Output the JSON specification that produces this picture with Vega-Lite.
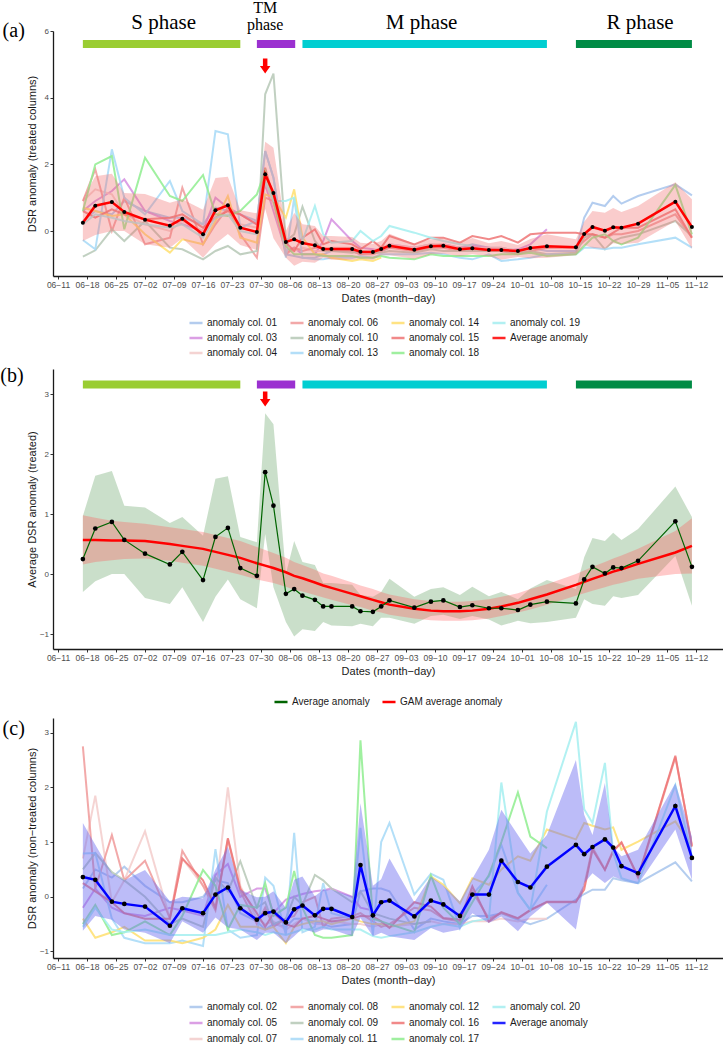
{
"$schema":"https://vega.github.io/schema/vega-lite/v6.json",
"padding":{"left":0,"top":0,"right":0,"bottom":0},
"config":{"view":{"stroke":null},"font":"Liberation Sans",
 "axis":{"grid":false,"domainColor":"#1a1a1a","domainWidth":1.3,"tickColor":"#333333","tickSize":3,"labelColor":"#4d4d4d","labelFontSize":8,"titleFontSize":11,"titleFontWeight":"normal","titleColor":"#1a1a1a","labelPadding":1.5},
 "axisX":{"labelFontSize":8.5,"titlePadding":3},
 "axisY":{"titlePadding":2,"format":"d","minExtent":14,"maxExtent":14},
 "title":{"font":"Liberation Serif","fontSize":20,"fontWeight":"normal","color":"#000000"},
 "legend":{"orient":"bottom","direction":"horizontal","labelFontSize":10,"labelColor":"#1a1a1a","symbolType":"stroke","symbolStrokeWidth":2.5,"symbolSize":170,"offset":12,"rowPadding":2,"columnPadding":7,"labelOffset":3,"layout":{"bottom":{"anchor":"middle"}}}},
"spacing":8,
"resolve":{"scale":{"x":"independent","y":"independent","color":"independent","stroke":"independent"},"legend":{"color":"independent"}},
"datasets":{
"arr":[{"d":"2019-07-31T00:00"}],
"ph":[{"p":"S","s":"2019-06-17T00:00","e":"2019-07-25T00:00","m":"2019-07-06T12:00","lbl":"S phase"},
{"p":"TM","s":"2019-07-29T00:00","e":"2019-08-07T06:00","m":"2019-07-31T00:00","lbl":"TM|phase"},
{"p":"M","s":"2019-08-09T00:00","e":"2019-10-07T00:00","m":"2019-09-06T18:00","lbl":"M phase"},
{"p":"R","s":"2019-10-14T00:00","e":"2019-11-11T00:00","m":"2019-10-29T12:00","lbl":"R phase"}],
"ta":[
{"d":"2019-06-17T00:00","c01":0.3,"c03":0.6,"c04":0.9,"c06":0.9,"c10":-0.77,"c13":-0.27,"c14":0.7,"c15":0.6,"c18":0.6,"c19":0.2,"avg":0.25,"lo":-0.3,"hi":0.97,"gam":0.57,"glo":0.16,"ghi":0.98},
{"d":"2019-06-20T00:00","c01":0.6,"c03":0.9,"c04":1.25,"c06":1.85,"c10":-0.58,"c13":-0.55,"c14":0.6,"c15":0.4,"c18":2.0,"c19":0.5,"avg":0.76,"lo":-0.12,"hi":1.64,"gam":0.57,"glo":0.2,"ghi":0.94},
{"d":"2019-06-24T00:00","c01":0.5,"c03":1.2,"c04":1.1,"c06":0.0,"c10":0.05,"c13":2.45,"c14":0.45,"c15":0.65,"c18":2.25,"c19":0.4,"avg":0.87,"lo":0.0,"hi":1.72,"gam":0.56,"glo":0.23,"ghi":0.89},
{"d":"2019-06-27T00:00","c01":0.9,"c03":1.55,"c04":0.5,"c06":1.0,"c10":-0.3,"c13":1.0,"c14":0.5,"c15":0.5,"c18":0.05,"c19":0.3,"avg":0.57,"lo":0.0,"hi":1.14,"gam":0.56,"glo":0.25,"ghi":0.87},
{"d":"2019-07-02T00:00","c01":0.6,"c03":0.6,"c04":0.2,"c06":-0.4,"c10":0.3,"c13":0.5,"c14":-0.1,"c15":0.35,"c18":2.2,"c19":0.2,"avg":0.34,"lo":-0.4,"hi":1.11,"gam":0.55,"glo":0.26,"ghi":0.84},
{"d":"2019-07-08T00:00","c01":0.4,"c03":0.3,"c04":0.0,"c06":-0.2,"c10":-0.5,"c13":1.5,"c14":-0.65,"c15":0.4,"c18":1.05,"c19":0.1,"avg":0.16,"lo":-0.5,"hi":0.85,"gam":0.5,"glo":0.22,"ghi":0.78},
{"d":"2019-07-11T00:00","c01":0.4,"c03":0.2,"c04":0.3,"c06":1.3,"c10":-0.55,"c13":0.6,"c14":-0.25,"c15":0.5,"c18":0.9,"c19":0.2,"avg":0.37,"lo":-0.22,"hi":0.95,"gam":0.47,"glo":0.19,"ghi":0.75},
{"d":"2019-07-16T00:00","c01":0.2,"c03":0.0,"c04":0.0,"c06":-0.4,"c10":-0.85,"c13":0.2,"c14":-0.4,"c15":0.1,"c18":1.68,"c19":-0.2,"avg":-0.1,"lo":-0.8,"hi":0.64,"gam":0.42,"glo":0.14,"ghi":0.7},
{"d":"2019-07-19T00:00","c01":0.7,"c03":1.0,"c04":0.5,"c06":0.2,"c10":-0.6,"c13":3.0,"c14":0.3,"c15":0.4,"c18":0.5,"c19":0.4,"avg":0.62,"lo":-0.38,"hi":1.59,"gam":0.37,"glo":0.09,"ghi":0.65},
{"d":"2019-07-22T00:00","c01":0.6,"c03":0.7,"c04":0.6,"c06":0.7,"c10":-0.45,"c13":2.9,"c14":1.05,"c15":0.6,"c18":0.45,"c19":0.5,"avg":0.77,"lo":-0.09,"hi":1.63,"gam":0.32,"glo":0.04,"ghi":0.6},
{"d":"2019-07-25T00:00","c01":0.5,"c03":0.5,"c04":0.2,"c06":-0.1,"c10":-0.7,"c13":0.1,"c14":-0.2,"c15":0.5,"c18":0.6,"c19":0.0,"avg":0.1,"lo":-0.42,"hi":0.62,"gam":0.27,"glo":-0.01,"ghi":0.55},
{"d":"2019-07-29T00:00","c01":0.3,"c03":0.2,"c04":0.1,"c06":-0.8,"c10":-0.6,"c13":0.3,"c14":-0.35,"c15":0.2,"c18":1.1,"c19":-0.1,"avg":-0.03,"lo":-0.57,"hi":0.53,"gam":0.18,"glo":-0.09,"ghi":0.45},
{"d":"2019-07-31T00:00","c01":2.4,"c03":1.4,"c04":1.5,"c06":1.0,"c10":4.1,"c13":2.4,"c14":1.1,"c15":1.9,"c18":1.8,"c19":1.5,"avg":1.7,"lo":0.67,"hi":2.68,"gam":0.14,"glo":-0.12,"ghi":0.4},
{"d":"2019-08-02T00:00","c01":1.6,"c03":0.6,"c04":0.8,"c06":0.9,"c10":4.72,"c13":1.6,"c14":1.0,"c15":1.0,"c18":0.9,"c19":0.9,"avg":1.14,"lo":-0.22,"hi":2.5,"gam":0.1,"glo":-0.15,"ghi":0.35},
{"d":"2019-08-05T00:00","c01":-0.7,"c03":-0.6,"c04":-0.6,"c06":-0.7,"c10":-0.3,"c13":-0.8,"c14":0.4,"c15":-0.35,"c18":-0.45,"c19":0.9,"avg":-0.33,"lo":-0.8,"hi":0.0,"gam":0.03,"glo":-0.21,"ghi":0.27},
{"d":"2019-08-07T00:00","c01":-0.75,"c03":-0.5,"c04":-0.6,"c06":-0.5,"c10":-0.1,"c13":1.0,"c14":1.25,"c15":-0.6,"c18":-0.7,"c19":1.0,"avg":-0.25,"lo":-1.04,"hi":0.55,"gam":-0.03,"glo":-0.26,"ghi":0.2},
{"d":"2019-08-09T00:00","c01":-0.8,"c03":-0.7,"c04":-0.5,"c06":-0.6,"c10":0.73,"c13":-0.8,"c14":-0.2,"c15":-0.2,"c18":-0.7,"c19":-0.3,"avg":-0.36,"lo":-0.92,"hi":0.2,"gam":-0.07,"glo":-0.29,"ghi":0.15},
{"d":"2019-08-12T00:00","c01":-0.8,"c03":-0.7,"c04":-0.6,"c06":-0.5,"c10":-0.3,"c13":-0.85,"c14":-0.7,"c15":0.05,"c18":-0.7,"c19":0.75,"avg":-0.43,"lo":-0.95,"hi":0.15,"gam":-0.14,"glo":-0.35,"ghi":0.07},
{"d":"2019-08-14T00:00","c01":-0.7,"c03":-0.3,"c04":-0.6,"c06":-0.5,"c10":-0.6,"c13":-0.85,"c14":-0.7,"c15":-0.4,"c18":-0.75,"c19":-0.1,"avg":-0.54,"lo":-0.8,"hi":-0.15,"gam":-0.19,"glo":-0.39,"ghi":0.01},
{"d":"2019-08-16T00:00","c01":-0.6,"c03":0.35,"c04":-0.5,"c06":-0.6,"c10":-0.6,"c13":-0.8,"c14":-0.8,"c15":-0.3,"c18":-0.75,"c19":-0.35,"avg":-0.54,"lo":-0.86,"hi":-0.15,"gam":-0.23,"glo":-0.43,"ghi":-0.03},
{"d":"2019-08-21T00:00","c01":-0.6,"c03":-0.3,"c04":-0.5,"c06":-0.6,"c10":-0.65,"c13":-0.8,"c14":-0.9,"c15":-0.4,"c18":-0.75,"c19":-0.3,"avg":-0.54,"lo":-0.87,"hi":-0.18,"gam":-0.33,"glo":-0.52,"ghi":-0.14},
{"d":"2019-08-23T00:00","c01":-0.7,"c03":-0.5,"c04":-0.6,"c06":-0.7,"c10":-0.6,"c13":-0.75,"c14":-0.85,"c15":-0.55,"c18":-0.8,"c19":0.0,"avg":-0.62,"lo":-0.83,"hi":-0.35,"gam":-0.37,"glo":-0.55,"ghi":-0.19},
{"d":"2019-08-26T00:00","c01":-0.6,"c03":-0.55,"c04":-0.6,"c06":-0.7,"c10":-0.65,"c13":-0.8,"c14":-0.9,"c15":-0.3,"c18":-0.8,"c19":-0.3,"avg":-0.63,"lo":-0.87,"hi":-0.38,"gam":-0.43,"glo":-0.61,"ghi":-0.25},
{"d":"2019-08-28T00:00","c01":-0.6,"c03":-0.6,"c04":-0.5,"c06":-0.6,"c10":-0.65,"c13":-0.7,"c14":-0.8,"c15":-0.5,"c18":-0.75,"c19":-0.15,"avg":-0.54,"lo":-0.73,"hi":-0.3,"gam":-0.47,"glo":-0.64,"ghi":-0.3},
{"d":"2019-08-30T00:00","c01":-0.5,"c03":-0.4,"c04":-0.4,"c06":-0.5,"c10":-0.6,"c13":-0.7,"c15":-0.15,"c18":-0.8,"c19":0.15,"avg":-0.44,"lo":-0.73,"hi":-0.08,"gam":-0.51,"glo":-0.68,"ghi":-0.34},
{"d":"2019-09-05T00:00","c01":-0.5,"c03":-0.5,"c04":-0.5,"c06":-0.6,"c10":-0.65,"c13":-0.7,"c15":-0.4,"c18":-0.85,"c19":-0.05,"avg":-0.56,"lo":-0.83,"hi":-0.38,"gam":-0.58,"glo":-0.74,"ghi":-0.42},
{"d":"2019-09-09T00:00","c01":-0.4,"c03":-0.45,"c04":-0.4,"c06":-0.5,"c10":-0.55,"c13":-0.65,"c15":-0.2,"c18":-0.7,"c19":-0.2,"avg":-0.46,"lo":-0.7,"hi":-0.25,"gam":-0.61,"glo":-0.77,"ghi":-0.45},
{"d":"2019-09-12T00:00","c01":-0.45,"c03":-0.4,"c04":-0.4,"c06":-0.5,"c10":-0.6,"c13":-0.7,"c15":-0.2,"c18":-0.75,"c19":-0.3,"avg":-0.44,"lo":-0.68,"hi":-0.22,"gam":-0.62,"glo":-0.78,"ghi":-0.46},
{"d":"2019-09-16T00:00","c01":-0.5,"c03":-0.5,"c04":-0.5,"c06":-0.6,"c10":-0.6,"c13":-0.8,"c15":-0.35,"c18":-0.75,"c19":-0.4,"avg":-0.55,"lo":-0.75,"hi":-0.35,"gam":-0.62,"glo":-0.78,"ghi":-0.46},
{"d":"2019-09-19T00:00","c01":-0.4,"c03":-0.45,"c04":-0.5,"c06":-0.5,"c10":-0.6,"c13":-0.85,"c15":-0.15,"c18":-0.75,"c19":-0.45,"avg":-0.52,"lo":-0.7,"hi":-0.21,"gam":-0.61,"glo":-0.77,"ghi":-0.45},
{"d":"2019-09-23T00:00","c01":-0.5,"c03":-0.5,"c04":-0.5,"c06":-0.6,"c10":-0.6,"c13":-0.7,"c15":-0.25,"c18":-0.75,"avg":-0.57,"lo":-0.76,"hi":-0.37,"gam":-0.58,"glo":-0.74,"ghi":-0.42},
{"d":"2019-09-26T00:00","c01":-0.5,"c03":-0.6,"c04":-0.5,"c06":-0.6,"c10":-0.6,"c13":-0.9,"c15":-0.15,"c18":-0.7,"avg":-0.57,"lo":-0.86,"hi":-0.3,"gam":-0.54,"glo":-0.7,"ghi":-0.38},
{"d":"2019-09-30T00:00","c01":-0.6,"c03":-0.55,"c04":-0.6,"c06":-0.7,"c10":-0.65,"c13":-0.85,"c15":-0.35,"c18":-0.7,"avg":-0.6,"lo":-0.78,"hi":-0.42,"gam":-0.48,"glo":-0.64,"ghi":-0.32},
{"d":"2019-10-03T00:00","c01":-0.5,"c03":-0.4,"c04":-0.5,"c06":-0.6,"c10":-0.6,"c13":-0.8,"c15":-0.1,"c18":-0.65,"avg":-0.51,"lo":-0.82,"hi":-0.24,"gam":-0.42,"glo":-0.59,"ghi":-0.25},
{"d":"2019-10-07T00:00","c01":-0.6,"c03":0.05,"c04":-0.5,"c06":-0.5,"c10":-0.7,"c13":-0.7,"c15":-0.05,"c18":-0.75,"avg":-0.46,"lo":-0.8,"hi":-0.1,"gam":-0.34,"glo":-0.51,"ghi":-0.17},
{"d":"2019-10-14T00:00","c01":-0.6,"c04":-0.5,"c06":-0.5,"c10":-0.65,"c13":-0.7,"c15":-0.05,"c18":-0.7,"avg":-0.49,"lo":-0.73,"hi":-0.25,"gam":-0.18,"glo":-0.36,"ghi":0.0},
{"d":"2019-10-16T00:00","c01":0.4,"c04":-0.1,"c06":-0.3,"c10":-0.2,"c13":-0.5,"c15":-0.1,"c18":-0.45,"avg":-0.09,"lo":-0.42,"hi":0.28,"gam":-0.13,"glo":-0.32,"ghi":0.06},
{"d":"2019-10-18T00:00","c01":0.85,"c04":0.1,"c06":-0.1,"c10":-0.1,"c13":-0.5,"c15":-0.1,"c18":-0.2,"avg":0.12,"lo":-0.5,"hi":0.6,"gam":-0.08,"glo":-0.28,"ghi":0.12},
{"d":"2019-10-21T00:00","c01":0.75,"c04":0.0,"c06":-0.2,"c10":-0.55,"c13":-0.55,"c15":-0.2,"c18":-0.1,"avg":0.01,"lo":-0.53,"hi":0.55,"gam":-0.01,"glo":-0.22,"ghi":0.2},
{"d":"2019-10-23T00:00","c01":1.05,"c04":0.1,"c06":-0.1,"c10":-0.3,"c13":-0.5,"c15":-0.05,"c18":-0.3,"avg":0.11,"lo":-0.37,"hi":0.69,"gam":0.04,"glo":-0.18,"ghi":0.26},
{"d":"2019-10-25T00:00","c01":0.82,"c04":0.1,"c06":-0.1,"c10":-0.2,"c13":-0.5,"c15":0.1,"c18":-0.4,"avg":0.1,"lo":-0.4,"hi":0.57,"gam":0.08,"glo":-0.15,"ghi":0.31},
{"d":"2019-10-29T00:00","c01":1.05,"c04":0.2,"c06":0.0,"c10":-0.1,"c13":-0.4,"c15":0.1,"c18":-0.2,"avg":0.22,"lo":-0.35,"hi":0.75,"gam":0.17,"glo":-0.08,"ghi":0.42},
{"d":"2019-11-07T00:00","c01":1.4,"c04":0.9,"c06":0.5,"c10":0.3,"c13":-0.2,"c15":0.65,"c18":1.38,"avg":0.88,"lo":0.3,"hi":1.46,"gam":0.36,"glo":0.0,"ghi":0.72},
{"d":"2019-11-11T00:00","c01":1.07,"c04":0.1,"c06":-0.2,"c10":-0.15,"c13":-0.5,"c15":-0.2,"c18":-0.1,"avg":0.12,"lo":-0.53,"hi":0.95,"gam":0.47,"glo":0.01,"ghi":0.93}],
"nt":[
{"d":"2019-06-17T00:00","c02":0.15,"c05":-0.2,"c07":0.7,"c08":2.75,"c09":0.5,"c11":0.79,"c12":-0.4,"c16":0.25,"c17":-0.5,"c20":-0.55,"avg":0.36,"lo":-0.62,"hi":1.35},
{"d":"2019-06-20T00:00","c02":0.5,"c05":0.15,"c07":1.85,"c08":0.15,"c09":0.8,"c11":0.8,"c12":-0.75,"c16":0.1,"c17":-0.15,"c20":-0.2,"avg":0.31,"lo":-0.35,"hi":0.95},
{"d":"2019-06-24T00:00","c02":0.35,"c05":-0.2,"c07":-0.1,"c08":1.13,"c09":0.45,"c11":-0.4,"c12":-0.65,"c16":-0.1,"c17":-0.7,"c20":-0.6,"avg":-0.09,"lo":-0.42,"hi":0.43},
{"d":"2019-06-27T00:00","c02":0.55,"c05":-0.3,"c07":0.3,"c08":0.3,"c09":0.3,"c11":-0.75,"c12":-0.55,"c16":-0.3,"c17":-0.65,"c20":-0.65,"avg":-0.13,"lo":-0.6,"hi":0.3},
{"d":"2019-07-02T00:00","c02":0.2,"c05":-0.35,"c07":1.2,"c08":0.66,"c09":0.0,"c11":-0.85,"c12":-0.8,"c16":-0.4,"c17":-0.45,"c20":-0.6,"avg":-0.18,"lo":-0.66,"hi":0.49},
{"d":"2019-07-08T00:00","c02":-0.1,"c05":-0.2,"c07":-0.4,"c08":-0.39,"c09":-0.5,"c11":-0.85,"c12":-0.8,"c16":-0.4,"c17":-0.7,"c20":-0.7,"avg":-0.53,"lo":-0.85,"hi":-0.08},
{"d":"2019-07-11T00:00","c02":-0.1,"c05":-0.25,"c07":0.7,"c08":0.84,"c09":-0.4,"c11":-0.8,"c12":-0.85,"c16":0.7,"c17":-0.35,"c20":-0.7,"avg":-0.21,"lo":-0.45,"hi":0.0},
{"d":"2019-07-16T00:00","c02":0.0,"c05":-0.35,"c07":0.2,"c08":0.2,"c09":-0.55,"c11":-0.9,"c12":-0.75,"c16":0.3,"c17":0.49,"c20":-0.7,"avg":-0.3,"lo":-0.66,"hi":-0.03},
{"d":"2019-07-19T00:00","c02":0.3,"c05":0.4,"c07":0.0,"c08":-0.25,"c09":0.35,"c11":0.87,"c12":-0.6,"c16":-0.2,"c17":0.2,"c20":-0.7,"avg":0.04,"lo":-0.38,"hi":0.5},
{"d":"2019-07-22T00:00","c02":0.25,"c05":0.6,"c07":2.0,"c08":1.05,"c09":0.1,"c11":-0.6,"c12":-0.15,"c16":1.07,"c17":-0.6,"c20":-0.65,"avg":0.17,"lo":-0.56,"hi":0.92},
{"d":"2019-07-25T00:00","c02":-0.3,"c05":0.0,"c07":0.2,"c08":0.1,"c09":0.65,"c11":-0.75,"c12":-0.55,"c16":0.15,"c17":-0.15,"c20":-0.6,"avg":-0.21,"lo":-0.6,"hi":0.13},
{"d":"2019-07-29T00:00","c02":-0.45,"c05":0.15,"c07":-0.4,"c08":-0.5,"c09":-0.2,"c11":-0.7,"c12":-0.55,"c16":-0.3,"c17":-0.2,"c20":-0.65,"avg":-0.42,"lo":-0.79,"hi":-0.01},
{"d":"2019-07-31T00:00","c02":-0.6,"c05":0.15,"c07":-0.5,"c08":-0.2,"c09":-0.1,"c11":0.35,"c12":-0.6,"c16":-0.55,"c17":0.25,"c20":-0.7,"avg":-0.3,"lo":-0.66,"hi":0.0},
{"d":"2019-08-02T00:00","c02":-0.5,"c05":-0.3,"c07":-0.45,"c08":-0.55,"c09":-0.5,"c11":0.2,"c12":-0.55,"c16":-0.3,"c17":-0.35,"c20":-0.65,"avg":-0.27,"lo":-0.66,"hi":0.1},
{"d":"2019-08-05T00:00","c02":-0.55,"c05":-0.05,"c07":-0.6,"c08":-0.4,"c09":-0.4,"c11":-0.7,"c12":-0.85,"c16":-0.5,"c17":-0.2,"c20":-0.7,"avg":-0.47,"lo":-0.85,"hi":-0.2},
{"d":"2019-08-07T00:00","c02":-0.4,"c05":0.0,"c07":-0.5,"c08":-0.35,"c09":0.0,"c11":1.17,"c12":-0.55,"c16":-0.55,"c17":0.47,"c20":-0.65,"avg":-0.23,"lo":-0.72,"hi":0.31},
{"d":"2019-08-09T00:00","c02":-0.4,"c05":0.05,"c07":-0.4,"c08":-0.1,"c09":-0.15,"c11":-0.65,"c12":-0.5,"c16":-0.4,"c17":-0.2,"c20":-0.6,"avg":-0.16,"lo":-0.58,"hi":0.37},
{"d":"2019-08-12T00:00","c02":-0.45,"c05":0.1,"c07":-0.5,"c08":0.0,"c09":0.4,"c11":-0.55,"c12":-0.45,"c16":-0.35,"c17":-0.7,"c20":-0.6,"avg":-0.34,"lo":-0.66,"hi":0.01},
{"d":"2019-08-14T00:00","c02":-0.5,"c05":0.12,"c07":-0.5,"c08":-0.55,"c09":0.3,"c11":0.25,"c12":-0.45,"c16":-0.4,"c17":-0.75,"c20":-0.55,"avg":-0.22,"lo":-0.6,"hi":0.13},
{"d":"2019-08-16T00:00","c02":-0.55,"c05":0.15,"c07":-0.45,"c08":-0.4,"c09":0.15,"c11":-0.3,"c12":-0.5,"c16":-0.45,"c17":-0.75,"c20":-0.6,"avg":-0.22,"lo":-0.6,"hi":0.13},
{"d":"2019-08-21T00:00","c02":-0.5,"c05":0.0,"c07":-0.5,"c08":-0.35,"c09":-0.1,"c11":-0.4,"c12":-0.4,"c16":-0.4,"c17":-0.7,"c20":-0.6,"avg":-0.37,"lo":-0.72,"hi":0.01},
{"d":"2019-08-23T00:00","c02":0.1,"c05":-0.2,"c07":-0.5,"c08":-0.3,"c09":0.1,"c11":1.26,"c12":-0.45,"c16":-0.35,"c17":2.86,"c20":-0.6,"avg":0.58,"lo":-0.39,"hi":1.71},
{"d":"2019-08-26T00:00","c02":0.15,"c05":-0.25,"c07":-0.55,"c08":-0.45,"c09":-0.3,"c11":-0.7,"c12":-0.5,"c16":-0.36,"c17":-0.4,"c20":-0.72,"avg":-0.34,"lo":-0.72,"hi":0.2},
{"d":"2019-08-28T00:00","c02":0.15,"c07":-0.5,"c08":-0.55,"c09":-0.35,"c11":1.0,"c12":-0.5,"c16":-0.45,"c17":-0.45,"c20":-0.75,"avg":-0.1,"lo":-0.66,"hi":0.32},
{"d":"2019-08-30T00:00","c02":0.1,"c07":-0.55,"c08":-0.5,"c09":-0.4,"c11":1.35,"c12":-0.55,"c16":-0.57,"c17":-0.5,"c20":-0.72,"avg":-0.07,"lo":-0.72,"hi":0.7},
{"d":"2019-09-05T00:00","c02":-0.6,"c07":-0.5,"c08":-0.2,"c09":-0.5,"c11":0.04,"c12":-0.45,"c16":-0.1,"c17":-0.65,"c20":-0.65,"avg":-0.36,"lo":-0.79,"hi":-0.1},
{"d":"2019-09-09T00:00","c02":-0.4,"c07":-0.45,"c08":-0.25,"c09":-0.45,"c11":0.42,"c12":0.37,"c16":-0.18,"c17":0.39,"c20":-0.55,"avg":-0.07,"lo":-0.57,"hi":0.37},
{"d":"2019-09-12T00:00","c02":-0.45,"c07":-0.5,"c08":-0.4,"c11":0.31,"c12":0.22,"c16":-0.39,"c17":-0.2,"c20":-0.5,"avg":-0.14,"lo":-0.66,"hi":0.2},
{"d":"2019-09-16T00:00","c02":-0.5,"c07":-0.5,"c08":-0.45,"c11":-0.57,"c12":-0.12,"c16":-0.42,"c17":-0.5,"c20":-0.55,"avg":-0.35,"lo":-0.6,"hi":-0.08},
{"d":"2019-09-19T00:00","c02":-0.35,"c07":-0.45,"c08":0.1,"c11":0.04,"c12":0.34,"c16":0.19,"c17":-0.1,"c20":-0.45,"avg":0.04,"lo":-0.3,"hi":0.33},
{"d":"2019-09-23T00:00","c02":-0.35,"c07":-0.45,"c08":-0.4,"c11":0.37,"c12":0.22,"c16":-0.45,"c17":0.4,"c20":-0.4,"avg":0.04,"lo":-0.48,"hi":0.86},
{"d":"2019-09-26T00:00","c02":-0.3,"c07":-0.4,"c08":-0.3,"c11":0.95,"c12":0.5,"c16":-0.28,"c17":1.0,"c20":2.09,"avg":0.66,"lo":-0.36,"hi":1.59},
{"d":"2019-09-30T00:00","c02":-0.42,"c07":-0.45,"c08":-0.4,"c11":0.07,"c12":0.74,"c16":-0.39,"c17":1.91,"c20":0.07,"avg":0.27,"lo":-0.63,"hi":1.13},
{"d":"2019-10-03T00:00","c02":-0.5,"c07":-0.4,"c08":-0.25,"c11":-0.24,"c12":0.66,"c16":-0.24,"c17":1.1,"c20":-0.24,"avg":0.17,"lo":-0.36,"hi":0.79},
{"d":"2019-10-07T00:00","c02":-0.4,"c07":-0.4,"c08":-0.1,"c11":0.22,"c12":1.23,"c16":-0.09,"c17":0.89,"c20":1.56,"avg":0.55,"lo":-0.11,"hi":1.13},
{"d":"2019-10-14T00:00","c02":-0.05,"c08":-0.1,"c12":1.05,"c16":-0.09,"c20":3.2,"avg":0.95,"lo":-0.6,"hi":2.5},
{"d":"2019-10-16T00:00","c02":0.05,"c08":0.2,"c12":1.35,"c16":0.13,"c20":1.6,"avg":0.78,"lo":0.25,"hi":1.5},
{"d":"2019-10-18T00:00","c02":0.13,"c08":0.9,"c12":1.3,"c16":0.86,"c20":1.35,"avg":0.91,"lo":0.43,"hi":1.13},
{"d":"2019-10-21T00:00","c02":0.13,"c08":0.5,"c12":1.23,"c16":0.49,"c20":2.45,"avg":1.05,"lo":0.25,"hi":2.08},
{"d":"2019-10-23T00:00","c02":0.34,"c08":0.85,"c12":1.27,"c16":0.83,"c20":0.8,"avg":0.9,"lo":0.37,"hi":0.91},
{"d":"2019-10-25T00:00","c02":0.3,"c08":1.0,"c12":0.86,"c16":0.99,"c20":0.34,"avg":0.56,"lo":0.31,"hi":0.74},
{"d":"2019-10-29T00:00","c02":0.25,"c08":0.35,"c12":1.01,"c16":0.37,"c20":0.25,"avg":0.43,"lo":0.23,"hi":0.86},
{"d":"2019-11-07T00:00","c02":0.63,"c08":2.55,"c12":1.38,"c16":2.58,"c20":2.04,"avg":1.66,"lo":1.23,"hi":2.08},
{"d":"2019-11-11T00:00","c02":0.28,"c08":0.95,"c12":0.92,"c16":0.92,"c20":0.74,"avg":0.71,"lo":0.31,"hi":1.1}]
},
"vconcat":[
{"width":670,"height":245,
 "title":{"text":"(a)","orient":"left","angle":0,"anchor":"end","frame":"group","align":"right","baseline":"middle","offset":-21,"dy":0},
 "encoding":{"x":{"field":"d","type":"temporal","title":"Dates (month−day)","scale":{"domain":[{"year":2019,"month":6,"date":9,"hours":19},{"year":2019,"month":11,"date":18,"hours":12}]},"axis":{"format":"%m−%d","labelOverlap":false,"labelFlush":false,"values":[{"year":2019,"month":6,"date":11},{"year":2019,"month":6,"date":18},{"year":2019,"month":6,"date":25},{"year":2019,"month":7,"date":2},{"year":2019,"month":7,"date":9},{"year":2019,"month":7,"date":16},{"year":2019,"month":7,"date":23},{"year":2019,"month":7,"date":30},{"year":2019,"month":8,"date":6},{"year":2019,"month":8,"date":13},{"year":2019,"month":8,"date":20},{"year":2019,"month":8,"date":27},{"year":2019,"month":9,"date":3},{"year":2019,"month":9,"date":10},{"year":2019,"month":9,"date":17},{"year":2019,"month":9,"date":24},{"year":2019,"month":10,"date":1},{"year":2019,"month":10,"date":8},{"year":2019,"month":10,"date":15},{"year":2019,"month":10,"date":22},{"year":2019,"month":10,"date":29},{"year":2019,"month":11,"date":5},{"year":2019,"month":11,"date":12}]}}},
 "layer":[
  {"data":{"name":"ta"},"transform":[{"fold":["c01","c03","c04","c06","c10","c13","c14","c15","c18","c19"],"as":["key","v"]}],
   "mark":{"type":"line","strokeWidth":2,"opacity":0.85},
   "encoding":{"y":{"field":"v","type":"quantitative","title":"DSR anomaly (treated columns)","scale":{"domain":[-1.35,6],"nice":false,"zero":false},"axis":{"values":[0,2,4,6]}},
    "color":{"field":"key","type":"nominal","scale":{"domain":["c01","c06","c14","c19","c03","c10","c15","Average anomaly","c04","c13","c18"],"range":["#a7c4ec","#f09a9a","#ffdf6e","#a5eef0","#d58fe0","#b6c8b6","#ef7575","#ff0000","#f3cccb","#a6d9f7","#8fed8f"]},
     "legend":{"title":null,"columns":4,"labelExpr":"datum.label == 'Average anomaly' ? datum.label : 'anomaly col. ' + substring(datum.label, 1)"}}}},
  {"data":{"name":"ta"},"mark":{"type":"area","color":"#f26d6d","opacity":0.35},
   "encoding":{"y":{"field":"lo","type":"quantitative","title":"DSR anomaly (treated columns)"},"y2":{"field":"hi"}}},
  {"data":{"name":"ta"},"mark":{"type":"line","strokeWidth":2.5},
   "encoding":{"y":{"field":"avg","type":"quantitative","title":"DSR anomaly (treated columns)"},"color":{"datum":"Average anomaly"}}},
  {"data":{"name":"ta"},"mark":{"type":"circle","size":16,"color":"#000000","opacity":1},
   "encoding":{"y":{"field":"avg","type":"quantitative","title":"DSR anomaly (treated columns)"}}},
  {"data":{"name":"ph"},"mark":{"type":"rule","strokeWidth":8,"strokeCap":"butt"},
   "encoding":{"x":{"field":"s","type":"temporal","title":"Dates (month−day)"},"x2":{"field":"e"},"y":{"datum":5.61},
    "stroke":{"field":"p","type":"nominal","scale":{"domain":["S","TM","M","R"],"range":["#9acd32","#9b30d0","#00ced1","#008b45"]},"legend":null}}},
  {"data":{"name":"ph"},"transform":[{"filter":"datum.p != 'TM'"}],"mark":{"type":"text","font":"Liberation Serif","fontSize":21,"baseline":"alphabetic","color":"#000000"},
   "encoding":{"x":{"field":"m","type":"temporal","title":"Dates (month−day)"},"y":{"datum":6.05},"text":{"field":"lbl"}}},
  {"data":{"name":"ph"},"transform":[{"filter":"datum.p == 'TM'"}],"mark":{"type":"text","font":"Liberation Serif","fontSize":16,"baseline":"alphabetic","lineBreak":"|","lineHeight":17,"color":"#000000"},
   "encoding":{"x":{"field":"m","type":"temporal","title":"Dates (month−day)"},"y":{"datum":6.53},"text":{"field":"lbl"}}},
  {"data":{"name":"arr"},"mark":{"type":"point","shape":"M -0.3 -1 L 0.3 -1 L 0.3 0 L 0.7 0 L 0 1 L -0.7 0 L -0.3 0 Z","filled":true,"color":"#ff0000","opacity":1,"size":225},
   "encoding":{"y":{"datum":4.95}}}
 ]},
{"width":670,"height":280,
 "title":{"text":"(b)","orient":"left","angle":0,"anchor":"end","frame":"group","align":"right","baseline":"middle","offset":-21,"dy":7},
 "encoding":{"x":{"field":"d","type":"temporal","title":"Dates (month−day)","scale":{"domain":[{"year":2019,"month":6,"date":9,"hours":19},{"year":2019,"month":11,"date":18,"hours":12}]},"axis":{"format":"%m−%d","labelOverlap":false,"labelFlush":false,"values":[{"year":2019,"month":6,"date":11},{"year":2019,"month":6,"date":18},{"year":2019,"month":6,"date":25},{"year":2019,"month":7,"date":2},{"year":2019,"month":7,"date":9},{"year":2019,"month":7,"date":16},{"year":2019,"month":7,"date":23},{"year":2019,"month":7,"date":30},{"year":2019,"month":8,"date":6},{"year":2019,"month":8,"date":13},{"year":2019,"month":8,"date":20},{"year":2019,"month":8,"date":27},{"year":2019,"month":9,"date":3},{"year":2019,"month":9,"date":10},{"year":2019,"month":9,"date":17},{"year":2019,"month":9,"date":24},{"year":2019,"month":10,"date":1},{"year":2019,"month":10,"date":8},{"year":2019,"month":10,"date":15},{"year":2019,"month":10,"date":22},{"year":2019,"month":10,"date":29},{"year":2019,"month":11,"date":5},{"year":2019,"month":11,"date":12}]}}},
 "layer":[
  {"data":{"name":"ta"},"mark":{"type":"area","color":"#5d9e5d","opacity":0.33},
   "encoding":{"y":{"field":"lo","type":"quantitative","title":"Average DSR anomaly (treated)","scale":{"domain":[-1.25,3.42],"nice":false,"zero":false},"axis":{"values":[-1,0,1,2,3]}},"y2":{"field":"hi"}}},
  {"data":{"name":"ta"},"mark":{"type":"area","color":"#ff5c5c","opacity":0.33},
   "encoding":{"y":{"field":"glo","type":"quantitative","title":"Average DSR anomaly (treated)"},"y2":{"field":"ghi"}}},
  {"data":{"name":"ta"},"mark":{"type":"line","strokeWidth":2.5},
   "encoding":{"y":{"field":"gam","type":"quantitative","title":"Average DSR anomaly (treated)"},
    "color":{"datum":"GAM average anomaly","scale":{"domain":["Average anomaly","GAM average anomaly"],"range":["#006400","#ff0000"]},"legend":{"title":null,"offset":16,"padding":2}}}},
  {"data":{"name":"ta"},"mark":{"type":"line","strokeWidth":1.2},
   "encoding":{"y":{"field":"avg","type":"quantitative","title":"Average DSR anomaly (treated)"},"color":{"datum":"Average anomaly"}}},
  {"data":{"name":"ta"},"mark":{"type":"circle","size":22,"color":"#000000","opacity":1},
   "encoding":{"y":{"field":"avg","type":"quantitative","title":"Average DSR anomaly (treated)"}}},
  {"data":{"name":"ph"},"mark":{"type":"rule","strokeWidth":8,"strokeCap":"butt"},
   "encoding":{"x":{"field":"s","type":"temporal","title":"Dates (month−day)"},"x2":{"field":"e"},"y":{"datum":3.16},
    "stroke":{"field":"p","type":"nominal","scale":{"domain":["S","TM","M","R"],"range":["#9acd32","#9b30d0","#00ced1","#008b45"]},"legend":null}}},
  {"data":{"name":"arr"},"mark":{"type":"point","shape":"M -0.3 -1 L 0.3 -1 L 0.3 0 L 0.7 0 L 0 1 L -0.7 0 L -0.3 0 Z","filled":true,"color":"#ff0000","opacity":1,"size":225},
   "encoding":{"y":{"datum":2.92}}}
 ]},
{"width":670,"height":240,
 "title":{"text":"(c)","orient":"left","angle":0,"anchor":"end","frame":"group","align":"right","baseline":"middle","offset":-21,"dy":11},
 "encoding":{"x":{"field":"d","type":"temporal","title":"Dates (month−day)","scale":{"domain":[{"year":2019,"month":6,"date":9,"hours":19},{"year":2019,"month":11,"date":18,"hours":12}]},"axis":{"format":"%m−%d","labelOverlap":false,"labelFlush":false,"values":[{"year":2019,"month":6,"date":11},{"year":2019,"month":6,"date":18},{"year":2019,"month":6,"date":25},{"year":2019,"month":7,"date":2},{"year":2019,"month":7,"date":9},{"year":2019,"month":7,"date":16},{"year":2019,"month":7,"date":23},{"year":2019,"month":7,"date":30},{"year":2019,"month":8,"date":6},{"year":2019,"month":8,"date":13},{"year":2019,"month":8,"date":20},{"year":2019,"month":8,"date":27},{"year":2019,"month":9,"date":3},{"year":2019,"month":9,"date":10},{"year":2019,"month":9,"date":17},{"year":2019,"month":9,"date":24},{"year":2019,"month":10,"date":1},{"year":2019,"month":10,"date":8},{"year":2019,"month":10,"date":15},{"year":2019,"month":10,"date":22},{"year":2019,"month":10,"date":29},{"year":2019,"month":11,"date":5},{"year":2019,"month":11,"date":12}]}}},
 "layer":[
  {"data":{"name":"nt"},"transform":[{"fold":["c02","c05","c07","c08","c09","c11","c12","c16","c17","c20"],"as":["key","v"]}],
   "mark":{"type":"line","strokeWidth":2,"opacity":0.85},
   "encoding":{"y":{"field":"v","type":"quantitative","title":"DSR anomaly (non−treated columns)","scale":{"domain":[-1.12,3.27],"nice":false,"zero":false},"axis":{"values":[-1,0,1,2,3]}},
    "color":{"field":"key","type":"nominal","scale":{"domain":["c02","c08","c12","c20","c05","c09","c16","Average anomaly","c07","c11","c17"],"range":["#a7c4ec","#f09a9a","#ffdf6e","#a5eef0","#d58fe0","#b6c8b6","#ef7575","#0000ff","#f3cccb","#a6d9f7","#8fed8f"]},
     "legend":{"title":null,"columns":4,"offset":14,"rowPadding":3,"labelExpr":"datum.label == 'Average anomaly' ? datum.label : 'anomaly col. ' + substring(datum.label, 1)"}}}},
  {"data":{"name":"nt"},"mark":{"type":"area","color":"#6b6bef","opacity":0.45},
   "encoding":{"y":{"field":"lo","type":"quantitative","title":"DSR anomaly (non−treated columns)"},"y2":{"field":"hi"}}},
  {"data":{"name":"nt"},"mark":{"type":"line","strokeWidth":2.5},
   "encoding":{"y":{"field":"avg","type":"quantitative","title":"DSR anomaly (non−treated columns)"},"color":{"datum":"Average anomaly"}}},
  {"data":{"name":"nt"},"mark":{"type":"circle","size":22,"color":"#000000","opacity":1},
   "encoding":{"y":{"field":"avg","type":"quantitative","title":"DSR anomaly (non−treated columns)"}}}
 ]}
]
}
